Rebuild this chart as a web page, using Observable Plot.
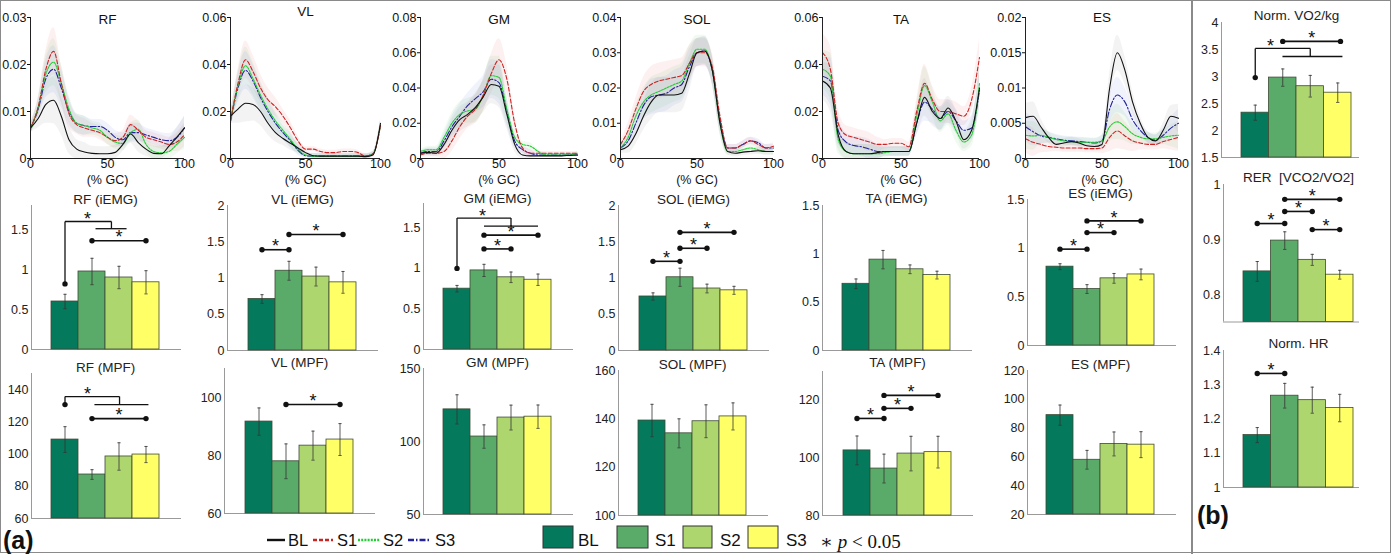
<!DOCTYPE html>
<html><head><meta charset="utf-8">
<script src="https://cdn.jsdelivr.net/npm/d3@7"></script>
<script src="https://cdn.jsdelivr.net/npm/@observablehq/plot@0.6"></script>
<style>
body{margin:0;background:#fff;font-family:"Liberation Sans",Arial,sans-serif;}
#root{position:relative;width:1391px;height:554px;overflow:hidden;background:#fff;}
.p{position:absolute;}
</style></head><body><div id="root"></div>
<script>
// ---------- categories & colours ----------
const groups = ["BL","S1","S2","S3"];
const barColors = ["#04795b","#5aab69","#aed66f","#ffff66"];
const lineColors = ["#111111","#cc2222","#22cc33","#22229a"];
const lineDash = [null,"4,2","2,1.2","6,2,1.5,2"];
const bandColors = ["#888888","#f07070","#70d070","#7080e0"];

// ---------- EMG envelopes (% gait cycle) ----------
const gc = [0,5,10,15,20,25,30,35,40,45,50,55,60,65,70,75,80,85,90,95,100];
const RF_BL = [0.0065,0.0085,0.0115,0.0124,0.009,0.004,0.002,0.0014,0.0011,0.001,0.001,0.0013,0.003,0.0052,0.0034,0.002,0.0011,0.001,0.0027,0.0045,0.0065];
const RF_S1 = [0.0065,0.011,0.019,0.0228,0.016,0.0095,0.0072,0.0065,0.006,0.0055,0.0045,0.0038,0.0045,0.0072,0.006,0.0045,0.004,0.0035,0.003,0.0035,0.005];
const RF_S2 = [0.006,0.011,0.018,0.0205,0.016,0.0105,0.0075,0.007,0.0065,0.006,0.0045,0.0035,0.0032,0.0055,0.0062,0.003,0.0015,0.0012,0.0015,0.003,0.0045];
const RF_S3 = [0.0065,0.0105,0.017,0.019,0.015,0.01,0.0075,0.007,0.0068,0.0068,0.006,0.0045,0.004,0.0055,0.0055,0.005,0.0045,0.004,0.0038,0.0045,0.0065];
const RF_SD = [0.001,0.002,0.004,0.005,0.004,0.003,0.002,0.002,0.0015,0.0015,0.0015,0.0015,0.0015,0.002,0.002,0.0015,0.0015,0.0015,0.0015,0.002,0.0025];

const VL_BL = [0.018,0.021,0.0235,0.023,0.02,0.015,0.011,0.0085,0.0065,0.0045,0.0025,0.0012,0.001,0.001,0.001,0.001,0.001,0.001,0.0008,0.0015,0.015];
const VL_S1 = [0.016,0.032,0.042,0.037,0.03,0.025,0.022,0.018,0.013,0.0075,0.004,0.004,0.003,0.0025,0.0025,0.003,0.003,0.0025,0.001,0.002,0.014];
const VL_S2 = [0.016,0.031,0.0395,0.034,0.027,0.021,0.016,0.012,0.008,0.004,0.0015,0.001,0.001,0.001,0.001,0.001,0.001,0.001,0.001,0.002,0.014];
const VL_S3 = [0.016,0.03,0.0375,0.033,0.026,0.02,0.015,0.011,0.0075,0.0035,0.0012,0.001,0.001,0.001,0.001,0.001,0.001,0.001,0.001,0.002,0.014];
const VL_SD = [0.003,0.006,0.008,0.007,0.006,0.005,0.004,0.003,0.003,0.002,0.001,0.001,0.001,0.001,0.001,0.001,0.001,0.001,0.001,0.001,0.002];

const GM_BL = [0.003,0.0035,0.003,0.008,0.016,0.022,0.025,0.029,0.035,0.042,0.041,0.025,0.008,0.002,0.0015,0.0015,0.0015,0.0015,0.0015,0.0018,0.002];
const GM_S1 = [0.002,0.003,0.003,0.004,0.01,0.018,0.024,0.028,0.036,0.048,0.056,0.045,0.02,0.006,0.003,0.003,0.003,0.003,0.003,0.003,0.003];
const GM_S2 = [0.004,0.005,0.005,0.012,0.02,0.025,0.027,0.028,0.036,0.047,0.046,0.028,0.012,0.008,0.007,0.004,0.002,0.002,0.002,0.002,0.003];
const GM_S3 = [0.003,0.004,0.004,0.01,0.018,0.024,0.03,0.034,0.038,0.045,0.043,0.027,0.01,0.005,0.003,0.002,0.002,0.002,0.002,0.002,0.002];
const GM_SD = [0.001,0.002,0.002,0.004,0.006,0.007,0.007,0.008,0.009,0.011,0.012,0.008,0.004,0.002,0.002,0.001,0.001,0.001,0.001,0.001,0.001];

const SOL_BL = [0.0025,0.0035,0.007,0.012,0.016,0.018,0.018,0.018,0.0185,0.024,0.03,0.0305,0.025,0.01,0.002,0.0015,0.0018,0.002,0.0022,0.002,0.002];
const SOL_S1 = [0.004,0.008,0.014,0.019,0.021,0.022,0.0225,0.023,0.0235,0.027,0.03,0.03,0.026,0.012,0.003,0.003,0.004,0.005,0.004,0.003,0.0035];
const SOL_S2 = [0.003,0.006,0.012,0.016,0.018,0.019,0.02,0.021,0.022,0.027,0.031,0.031,0.025,0.01,0.002,0.002,0.0025,0.003,0.0025,0.002,0.002];
const SOL_S3 = [0.003,0.005,0.01,0.015,0.0175,0.018,0.0185,0.02,0.021,0.026,0.03,0.0305,0.025,0.011,0.003,0.003,0.004,0.005,0.0045,0.003,0.003];
const SOL_SD = [0.001,0.002,0.003,0.004,0.005,0.005,0.005,0.005,0.005,0.005,0.004,0.004,0.004,0.003,0.001,0.001,0.001,0.001,0.001,0.001,0.001];

const TA_BL = [0.033,0.03,0.01,0.003,0.002,0.002,0.002,0.0025,0.003,0.003,0.003,0.003,0.015,0.026,0.02,0.017,0.0215,0.016,0.008,0.012,0.03];
const TA_S1 = [0.045,0.038,0.015,0.01,0.009,0.008,0.007,0.006,0.006,0.0065,0.0065,0.005,0.02,0.032,0.025,0.02,0.02,0.019,0.018,0.025,0.043];
const TA_S2 = [0.038,0.035,0.008,0.003,0.002,0.002,0.002,0.002,0.0025,0.003,0.003,0.003,0.018,0.031,0.024,0.016,0.019,0.012,0.007,0.01,0.032];
const TA_S3 = [0.035,0.033,0.012,0.007,0.0055,0.005,0.004,0.003,0.003,0.003,0.003,0.003,0.015,0.024,0.021,0.017,0.02,0.016,0.012,0.013,0.029];
const TA_SD = [0.008,0.01,0.006,0.004,0.004,0.004,0.004,0.003,0.002,0.002,0.002,0.002,0.005,0.008,0.006,0.005,0.005,0.005,0.004,0.005,0.008];

const ES_BL = [0.0058,0.006,0.0045,0.003,0.002,0.0022,0.0024,0.0022,0.0018,0.0017,0.002,0.01,0.015,0.0125,0.008,0.005,0.003,0.0025,0.004,0.006,0.0057];
const ES_S1 = [0.0028,0.0023,0.002,0.0017,0.0016,0.0015,0.0015,0.0015,0.0014,0.0014,0.0015,0.003,0.0039,0.0032,0.0025,0.0022,0.002,0.002,0.0024,0.0027,0.003];
const ES_S2 = [0.0033,0.0032,0.0033,0.003,0.0027,0.0025,0.0024,0.0023,0.0023,0.0023,0.0025,0.0045,0.0052,0.0045,0.0035,0.003,0.0028,0.0028,0.003,0.0032,0.0033];
const ES_S3 = [0.0045,0.0038,0.0032,0.003,0.0028,0.0026,0.0025,0.0024,0.0023,0.0022,0.0025,0.007,0.009,0.008,0.0055,0.004,0.003,0.0026,0.0033,0.0043,0.005];
const ES_SD = [0.002,0.002,0.0012,0.0008,0.0006,0.0006,0.0006,0.0006,0.0006,0.0006,0.0008,0.002,0.0025,0.002,0.0015,0.001,0.0008,0.0008,0.001,0.0015,0.002];

// ---------- bar values (BL, S1, S2, S3) ----------
const iemgRF = [0.60,0.975,0.90,0.84],  iemgRF_err = [0.09,0.165,0.14,0.145];
const iemgVL = [0.71,1.10,1.02,0.94],   iemgVL_err = [0.06,0.13,0.13,0.15];
const iemgGM = [0.75,0.975,0.89,0.86],  iemgGM_err = [0.04,0.075,0.065,0.07];
const iemgSOL = [0.745,1.01,0.855,0.83], iemgSOL_err = [0.05,0.125,0.06,0.055];
const iemgTA = [0.69,0.94,0.84,0.78],   iemgTA_err = [0.05,0.095,0.045,0.04];
const iemgES = [0.81,0.58,0.69,0.73],   iemgES_err = [0.03,0.045,0.05,0.055];

const mpfRF = [109,87.3,98.5,99.7],   mpfRF_err = [8,3,8.5,5];
const mpfVL = [91.7,78,83.4,85.5],    mpfVL_err = [4.7,6,5,5.5];
const mpfGM = [122,103.4,116.4,117],  mpfGM_err = [10,8,8.5,8];
const mpfSOL = [139.3,134,139,141],   mpfSOL_err = [6.7,6,6.8,5.6];
const mpfTA = [102.6,96.3,101.5,102], mpfTA_err = [5,5,6,5.5];
const mpfES = [89,58,69,68.5],        mpfES_err = [7,6.5,8.3,9];

const vo2 = [2.33,2.98,2.82,2.70], vo2_err = [0.14,0.16,0.2,0.18];
const rer = [0.842,0.898,0.863,0.836], rer_err = [0.018,0.016,0.01,0.008];
const hr  = [1.153,1.268,1.255,1.232], hr_err = [0.022,0.036,0.038,0.04];

// ---------- significance annotations ----------
// pairs: [from, to, level]
// group: [dotX, dotLevel, topLevel, midX, groupLevel, groupFrom, groupTo, starX]
const sigRFi = {pairs:[[1,3,1.36]], group:[0,0.82,1.6,1.72,1.51,1.13,2.28,0.83]};
const sigVLi = {pairs:[[0,1,1.39],[1,3,1.6]]};
const sigGMi = {pairs:[[1,3,1.41],[1,2,1.24]], group:[0,1.0,1.62,2.0,1.52,1.0,3.0,0.94]};
const sigSOLi = {pairs:[[0,1,1.23],[1,2,1.41],[1,3,1.63]]};
const sigESi = {pairs:[[0,1,0.99],[1,2,1.16],[1,3,1.28]]};
const sigRFm = {pairs:[[1,3,122]], group:[0,130.7,135.7,2.02,130.7,1.09,3.09,0.83]};
const sigVLm = {pairs:[[1,3,97.6]]};
const sigTAm = {pairs:[[0,1,113.7],[1,2,117.2],[1,3,121.7]]};
const sigVO2 = {pairs:[[1,3.1,3.65]], group:[0,2.98,3.52,2.0,3.37,0.99,3.17,0.55]};
const sigRER = {pairs:[[0,1,0.929],[1,2,0.951],[1,3,0.973],[2,3,0.918]]};
const sigHR = {pairs:[[0,1,1.333]]};

const FONT = "'Liberation Sans', Arial, sans-serif";
const root = document.getElementById("root");
function place(node, left, top) {
  const d = document.createElement("div");
  d.className = "p"; d.style.left = left + "px"; d.style.top = top + "px";
  d.appendChild(node); root.appendChild(d);
}

function linePanel(cfg) {
  const {title, series, sd, yMax, yTicks, axisX, rightX, titleDy = 2} = cfg;
  const mL = 34, mR = 10, mT = 17, mB = 30, plotH = 141;
  const W = mL + (rightX - axisX) + mR;
  const bands = [], lines = [];
  series.forEach((vals, k) => {
    const rows = gc.map((x, i) => ({x, y: vals[i], lo: Math.max(0, vals[i] - sd[i]), hi: vals[i] + sd[i]}));
    bands.push(Plot.areaY(rows, {x: "x", y1: "lo", y2: "hi", fill: bandColors[k], fillOpacity: 0.1, curve: "monotone-x"}));
    lines.push(Plot.line(rows, {x: "x", y: "y", stroke: lineColors[k], strokeWidth: 1.1, strokeDasharray: lineDash[k], curve: "monotone-x"}));
  });
  const svg = Plot.plot({
    width: W, height: mT + plotH + mB,
    marginLeft: mL, marginRight: mR, marginTop: mT, marginBottom: mB,
    style: {fontFamily: FONT, fontSize: "12px", background: "transparent", overflow: "visible", color: "#111"},
    x: {domain: [0, 100], axis: null},
    y: {domain: [0, yMax], axis: null},
    marks: [
      ...bands, ...lines.reverse(),
      Plot.ruleX([0], {stroke: "#222", strokeWidth: 1}),
      Plot.ruleY([0], {stroke: "#222", strokeWidth: 1}),
      Plot.axisX({ticks: [0, 50, 100], tickSize: 0, tickPadding: 1, fontSize: 12.5, label: null}),
      Plot.axisY({ticks: yTicks, tickSize: 3, tickPadding: 1, tickFormat: d => String(d), fontSize: 12.5, label: null}),
      Plot.text([title], {text: d => d, frameAnchor: "top", lineAnchor: "middle", dy: titleDy, fontSize: 13.5}),
      Plot.text(["(% GC)"], {text: d => d, frameAnchor: "bottom", lineAnchor: "middle", dy: 21, fontSize: 12.5})
    ]
  });
  place(svg, axisX - mL, 0);
}

function barPanel(cfg) {
  const {title, vals, errs, domain, ticks, ax, yt, yb, barLeft, unit = 27, tail = 22, sig = {}, titleDy = -6} = cfg;
  const mL = 32, mR = 4, mT = 22, mB = 4;
  const x0 = -0.5 - (barLeft - ax) / unit;
  const x1 = 3.5 + tail / unit;
  const W = mL + (x1 - x0) * unit + mR;
  const H = mT + (yb - yt) + mB;
  const lo = domain[0];
  const rows = groups.map((g, i) => ({g, i, v: vals[i], e: errs[i]}));
  const marks = [
    Plot.ruleX([x0], {stroke: "#9a9a9a", strokeWidth: 1}),
    Plot.ruleY([lo], {stroke: "#9a9a9a", strokeWidth: 1}),
    Plot.rect(rows, {x1: d => d.i - 0.5, x2: d => d.i + 0.5, y1: () => lo, y2: "v", fill: "g", stroke: "#3d4a35", strokeWidth: 0.8}),
    Plot.ruleX(rows, {x: "i", y1: d => d.v - d.e, y2: d => d.v + d.e, stroke: "#333", strokeWidth: 0.8}),
    Plot.link(rows, {x1: d => d.i - 0.06, x2: d => d.i + 0.06, y1: d => d.v + d.e, y2: d => d.v + d.e, stroke: "#333", strokeWidth: 0.8}),
    Plot.link(rows, {x1: d => d.i - 0.06, x2: d => d.i + 0.06, y1: d => d.v - d.e, y2: d => d.v - d.e, stroke: "#333", strokeWidth: 0.8}),
    Plot.axisY({ticks, tickSize: 0, tickPadding: 3, tickFormat: d => String(d), fontSize: 12.5, label: null}),
    Plot.text([title], {x: () => 1.5, text: d => d, frameAnchor: "top", lineAnchor: "middle", dy: titleDy, fontSize: 13.5})
  ];
  const pr = (sig.pairs || []).map(([a, b, y]) => ({a, b, y}));
  if (pr.length) {
    marks.push(
      Plot.link(pr, {x1: "a", x2: "b", y1: "y", y2: "y", stroke: "#111", strokeWidth: 1.6}),
      Plot.dot(pr.flatMap(p => [{x: p.a, y: p.y}, {x: p.b, y: p.y}]), {x: "x", y: "y", r: 2.7, fill: "#111", stroke: "none"}),
      Plot.text(pr, {x: d => (d.a + d.b) / 2, y: "y", text: () => "*", dy: -3, fontSize: 18, fill: "#111"})
    );
  }
  if (sig.group) {
    const [dx, dy0, ty, mx, gy, g1, g2, sx] = sig.group;
    const segs = [
      {x1: dx, y1: dy0, x2: dx, y2: ty}, {x1: dx, y1: ty, x2: mx, y2: ty},
      {x1: mx, y1: ty, x2: mx, y2: gy}, {x1: g1, y1: gy, x2: g2, y2: gy}
    ];
    marks.push(
      Plot.link(segs, {x1: "x1", y1: "y1", x2: "x2", y2: "y2", stroke: "#111", strokeWidth: 1.3}),
      Plot.dot([{x: dx, y: dy0}], {x: "x", y: "y", r: 2.7, fill: "#111", stroke: "none"}),
      Plot.text([{x: sx, y: ty}], {x: "x", y: "y", text: () => "*", dy: -2, fontSize: 18, fill: "#111"})
    );
  }
  const svg = Plot.plot({
    width: W, height: H,
    marginLeft: mL, marginRight: mR, marginTop: mT, marginBottom: mB,
    style: {fontFamily: FONT, fontSize: "12px", background: "transparent", overflow: "visible", color: "#222"},
    x: {domain: [x0, x1], axis: null},
    y: {domain, axis: null},
    color: {domain: groups, range: barColors},
    marks
  });
  place(svg, ax - mL, yt - mT);
}

// ---------- frame ----------
const frame = document.createElement("div");
frame.style.cssText = "position:absolute;left:0;top:0;width:1389px;height:551px;border:1.5px solid #8a8a8a;box-sizing:content-box;";
root.appendChild(frame);
const divider = document.createElement("div");
divider.style.cssText = "position:absolute;left:1191px;top:0;width:1.5px;height:554px;background:#8a8a8a;";
root.appendChild(divider);

// ---------- top row: envelopes ----------
linePanel({title: "RF", series: [RF_BL, RF_S1, RF_S2, RF_S3], sd: RF_SD, yMax: 0.03, yTicks: [0, 0.01, 0.02, 0.03], axisX: 30, rightX: 184});
linePanel({title: "VL", series: [VL_BL, VL_S1, VL_S2, VL_S3], sd: VL_SD, yMax: 0.06, yTicks: [0, 0.02, 0.04, 0.06], axisX: 230, rightX: 380, titleDy: -6});
linePanel({title: "GM", series: [GM_BL, GM_S1, GM_S2, GM_S3], sd: GM_SD, yMax: 0.08, yTicks: [0, 0.02, 0.04, 0.06, 0.08], axisX: 420, rightX: 577});
linePanel({title: "SOL", series: [SOL_BL, SOL_S1, SOL_S2, SOL_S3], sd: SOL_SD, yMax: 0.04, yTicks: [0, 0.01, 0.02, 0.03, 0.04], axisX: 620, rightX: 773});
linePanel({title: "TA", series: [TA_BL, TA_S1, TA_S2, TA_S3], sd: TA_SD, yMax: 0.06, yTicks: [0, 0.02, 0.04, 0.06], axisX: 822, rightX: 979});
linePanel({title: "ES", series: [ES_BL, ES_S1, ES_S2, ES_S3], sd: ES_SD, yMax: 0.02, yTicks: [0, 0.005, 0.01, 0.015, 0.02], axisX: 1025, rightX: 1178, titleDy: 0});

// ---------- middle row: iEMG ----------
barPanel({title: "RF (iEMG)", vals: iemgRF, errs: iemgRF_err, domain: [0, 1.8], ticks: [0, 0.5, 1, 1.5], ax: 31, yt: 205, yb: 349, barLeft: 51, sig: sigRFi});
barPanel({title: "VL (iEMG)", vals: iemgVL, errs: iemgVL_err, domain: [0, 2], ticks: [0, 0.5, 1, 1.5, 2], ax: 227, yt: 205, yb: 350, barLeft: 248, sig: sigVLi});
barPanel({title: "GM (iEMG)", vals: iemgGM, errs: iemgGM_err, domain: [0, 1.8], ticks: [0, 0.5, 1, 1.5], ax: 423, yt: 203, yb: 349, barLeft: 443, sig: sigGMi, titleDy: -5});
barPanel({title: "SOL (iEMG)", vals: iemgSOL, errs: iemgSOL_err, domain: [0, 2], ticks: [0, 0.5, 1, 1.5, 2], ax: 618, yt: 205, yb: 350, barLeft: 639, sig: sigSOLi});
barPanel({title: "TA (iEMG)", vals: iemgTA, errs: iemgTA_err, domain: [0, 1.5], ticks: [0, 0.5, 1, 1.5], ax: 822, yt: 205, yb: 350, barLeft: 842, titleDy: -7});
barPanel({title: "ES (iEMG)", vals: iemgES, errs: iemgES_err, domain: [0, 1.5], ticks: [0, 0.5, 1, 1.5], ax: 1027, yt: 199, yb: 345, barLeft: 1046, sig: sigESi});

// ---------- bottom row: MPF ----------
barPanel({title: "RF (MPF)", vals: mpfRF, errs: mpfRF_err, domain: [60, 150], ticks: [60, 80, 100, 120, 140], ax: 31, yt: 373, yb: 518, barLeft: 51, sig: sigRFm});
barPanel({title: "VL (MPF)", vals: mpfVL, errs: mpfVL_err, domain: [60, 110], ticks: [60, 80, 100], ax: 224, yt: 368, yb: 513, barLeft: 245, sig: sigVLm});
barPanel({title: "GM (MPF)", vals: mpfGM, errs: mpfGM_err, domain: [50, 150], ticks: [50, 100, 150], ax: 423, yt: 368, yb: 514, barLeft: 443});
barPanel({title: "SOL (MPF)", vals: mpfSOL, errs: mpfSOL_err, domain: [100, 160], ticks: [100, 120, 140, 160], ax: 618, yt: 370, yb: 515, barLeft: 638});
barPanel({title: "TA (MPF)", vals: mpfTA, errs: mpfTA_err, domain: [80, 130], ticks: [80, 100, 120], ax: 822, yt: 371, yb: 515, barLeft: 843, sig: sigTAm, titleDy: -9});
barPanel({title: "ES (MPF)", vals: mpfES, errs: mpfES_err, domain: [20, 120], ticks: [20, 40, 60, 80, 100, 120], ax: 1027, yt: 370, yb: 514, barLeft: 1046});

// ---------- (b) metabolic ----------
barPanel({title: "Norm. VO2/kg", vals: vo2, errs: vo2_err, domain: [1.5, 4], ticks: [1.5, 2, 2.5, 3, 3.5, 4], ax: 1221, yt: 22, yb: 157, barLeft: 1241, unit: 27.5, tail: 8, sig: sigVO2, titleDy: -7});
barPanel({title: "RER  [VCO2/VO2]", vals: rer, errs: rer_err, domain: [0.75, 1], ticks: [0.8, 0.9, 1], ax: 1223, yt: 184, yb: 321.5, barLeft: 1243, unit: 27.5, tail: 6, sig: sigRER, titleDy: -7});
barPanel({title: "Norm. HR", vals: hr, errs: hr_err, domain: [1, 1.4], ticks: [1, 1.1, 1.2, 1.3, 1.4], ax: 1223, yt: 350, yb: 487, barLeft: 1243, unit: 27.5, tail: 6, sig: sigHR, titleDy: -7});

// ---------- legends & panel labels ----------
const NS = "http://www.w3.org/2000/svg";
const leg = document.createElementNS(NS, "svg");
leg.setAttribute("width", 1391); leg.setAttribute("height", 554);
leg.style.cssText = "position:absolute;left:0;top:0;pointer-events:none;";
const lineLeg = [[267, 285, 288], [313, 333, 337], [358, 380, 383], [408, 431, 435]];
const boxLeg = [[543, 30, 578], [617, 31, 655], [683, 29, 720], [748, 30, 786]];
let html = "";
groups.forEach((g, k) => {
  const [a, b, t] = lineLeg[k];
  html += `<line x1="${a}" x2="${b}" y1="540" y2="540" stroke="${lineColors[k]}" stroke-width="2.4" ${lineDash[k] ? `stroke-dasharray="${lineDash[k]}"` : ""}/>`;
  html += `<text x="${t}" y="546" font-size="16.5" font-family="${FONT}" fill="#111">${g}</text>`;
  const [bx, bw, bt] = boxLeg[k];
  html += `<rect x="${bx}" y="526" width="${bw}" height="22" fill="${barColors[k]}" stroke="#333" stroke-width="1"/>`;
  html += `<text x="${bt}" y="546" font-size="17" font-family="${FONT}" fill="#111">${g}</text>`;
});
html += `<text x="820" y="548" font-size="19" font-family="'Liberation Serif','DejaVu Serif',serif" fill="#111">∗ <tspan font-style="italic">p</tspan> &lt; 0.05</text>`;
html += `<text x="3" y="549" font-size="25" font-weight="bold" font-family="${FONT}" fill="#111">(a)</text>`;
html += `<text x="1197" y="524" font-size="25" font-weight="bold" font-family="${FONT}" fill="#111">(b)</text>`;
leg.innerHTML = html;
root.appendChild(leg);
</script>
</body></html>
